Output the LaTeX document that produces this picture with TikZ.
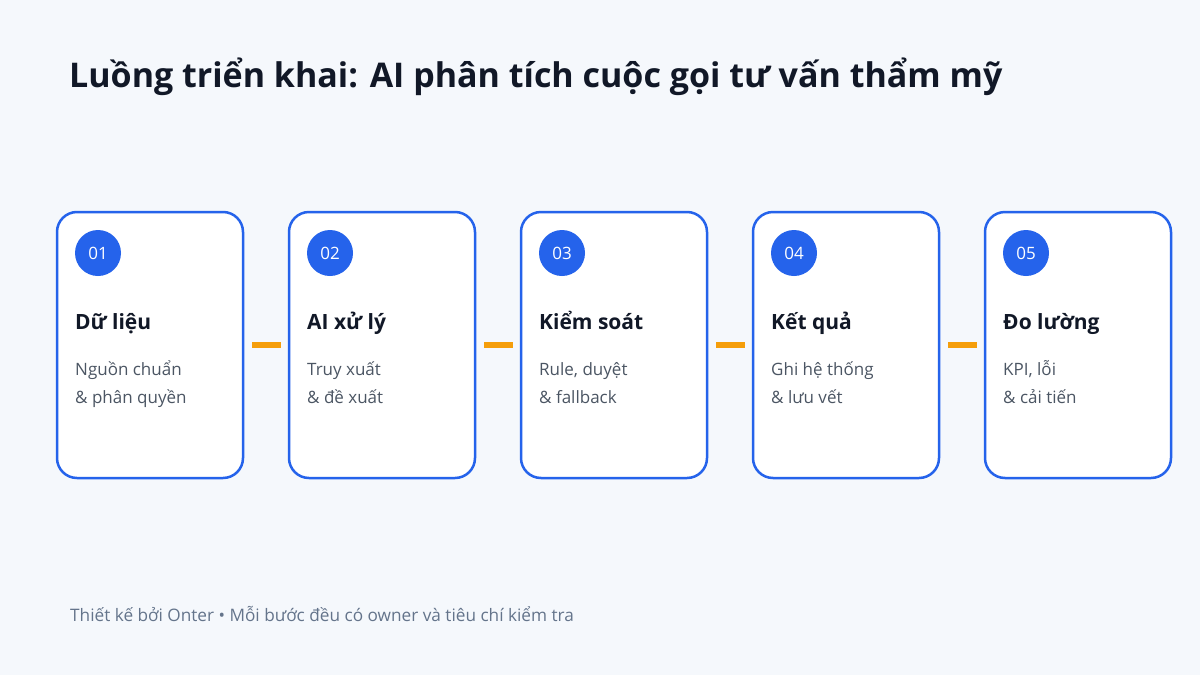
\documentclass[tikz,border=0pt]{standalone}
\usepackage{fontspec}
\setmainfont{Open Sans}
\usetikzlibrary{positioning,calc}
\definecolor{mybg}{HTML}{F5F8FC}
\definecolor{myblue}{HTML}{2563EB}
\definecolor{myorange}{HTML}{F59E0B}
\definecolor{mydark}{HTML}{111827}
\definecolor{mygray}{HTML}{4B5563}
\definecolor{myfoot}{HTML}{64748B}
\tikzset{
	card/.style={
		rectangle, draw=myblue, line width=2.5pt, fill=white,
		rounded corners=20pt, minimum width=186pt, minimum height=266pt,
		inner sep=0pt, outer sep=0pt,
	},
	badge/.style={
		circle, fill=myblue, minimum size=46pt, inner sep=0pt,
		text=white, font=\fontsize{17}{17}\selectfont,
	},
	head/.style={
		anchor=base west, inner sep=0pt, text=mydark,
		font=\bfseries\fontsize{21}{27}\selectfont,
	},
	desc/.style={
		anchor=base west, inner sep=0pt, text=mygray,
		font=\fontsize{17}{28}\selectfont,
	},
	link/.style={
		draw=myorange, line width=6pt,
	}
}

\begin{document}
\begin{tikzpicture}[x=1pt, y=-1pt]
	% Background
	\fill[mybg] (0,0) rectangle (1200,675);
	\useasboundingbox (0,0) rectangle (1200,675);
	% Title
	\node[anchor=base west, inner sep=0pt, text=mydark, font=\bfseries\fontsize{34}{42}\selectfont] (title) at (69,87) {Luồng triển khai: AI phân tích cuộc gọi tư vấn thẩm mỹ};
	% Cards
	\node[card] (c1) at (150,345) {};
	\node[card, right=46pt of c1] (c2) {};
	\node[card, right=46pt of c2] (c3) {};
	\node[card, right=46pt of c3] (c4) {};
	\node[card, right=46pt of c4] (c5) {};
	% Step 1
	\node[badge] (b1) at ($(c1.north west)+(41,41)$) {01};
	\node[head] (h1) at ($(c1.north west)+(18,117)$) {Dữ liệu};
	\node[desc] (d1a) at ($(c1.north west)+(18,163)$) {Nguồn chuẩn};
	\node[desc] (d1b) at ($(c1.north west)+(18,191)$) {\& phân quyền};
	% Step 2
	\node[badge] (b2) at ($(c2.north west)+(41,41)$) {02};
	\node[head] (h2) at ($(c2.north west)+(18,117)$) {AI xử lý};
	\node[desc] (d2a) at ($(c2.north west)+(18,163)$) {Truy xuất};
	\node[desc] (d2b) at ($(c2.north west)+(18,191)$) {\& đề xuất};
	% Step 3
	\node[badge] (b3) at ($(c3.north west)+(41,41)$) {03};
	\node[head] (h3) at ($(c3.north west)+(18,117)$) {Kiểm soát};
	\node[desc] (d3a) at ($(c3.north west)+(18,163)$) {Rule, duyệt};
	\node[desc] (d3b) at ($(c3.north west)+(18,191)$) {\& fallback};
	% Step 4
	\node[badge] (b4) at ($(c4.north west)+(41,41)$) {04};
	\node[head] (h4) at ($(c4.north west)+(18,117)$) {Kết quả};
	\node[desc] (d4a) at ($(c4.north west)+(18,163)$) {Ghi hệ thống};
	\node[desc] (d4b) at ($(c4.north west)+(18,191)$) {\& lưu vết};
	% Step 5
	\node[badge] (b5) at ($(c5.north west)+(41,41)$) {05};
	\node[head] (h5) at ($(c5.north west)+(18,117)$) {Đo lường};
	\node[desc] (d5a) at ($(c5.north west)+(18,163)$) {KPI, lỗi};
	\node[desc] (d5b) at ($(c5.north west)+(18,191)$) {\& cải tiến};
	% Connectors (orange)
	\draw[link] ([xshift=9pt]c1.east) -- ([xshift=-8pt]c2.west);
	\draw[link] ([xshift=9pt]c2.east) -- ([xshift=-8pt]c3.west);
	\draw[link] ([xshift=9pt]c3.east) -- ([xshift=-8pt]c4.west);
	\draw[link] ([xshift=9pt]c4.east) -- ([xshift=-8pt]c5.west);
	% Footer
	\node[anchor=base west, inner sep=0pt, text=myfoot, font=\fontsize{17.2}{20}\selectfont] (foot) at (70,621) {Thiết kế bởi Onter • Mỗi bước đều có owner và tiêu chí kiểm tra};
\end{tikzpicture}
\end{document}
